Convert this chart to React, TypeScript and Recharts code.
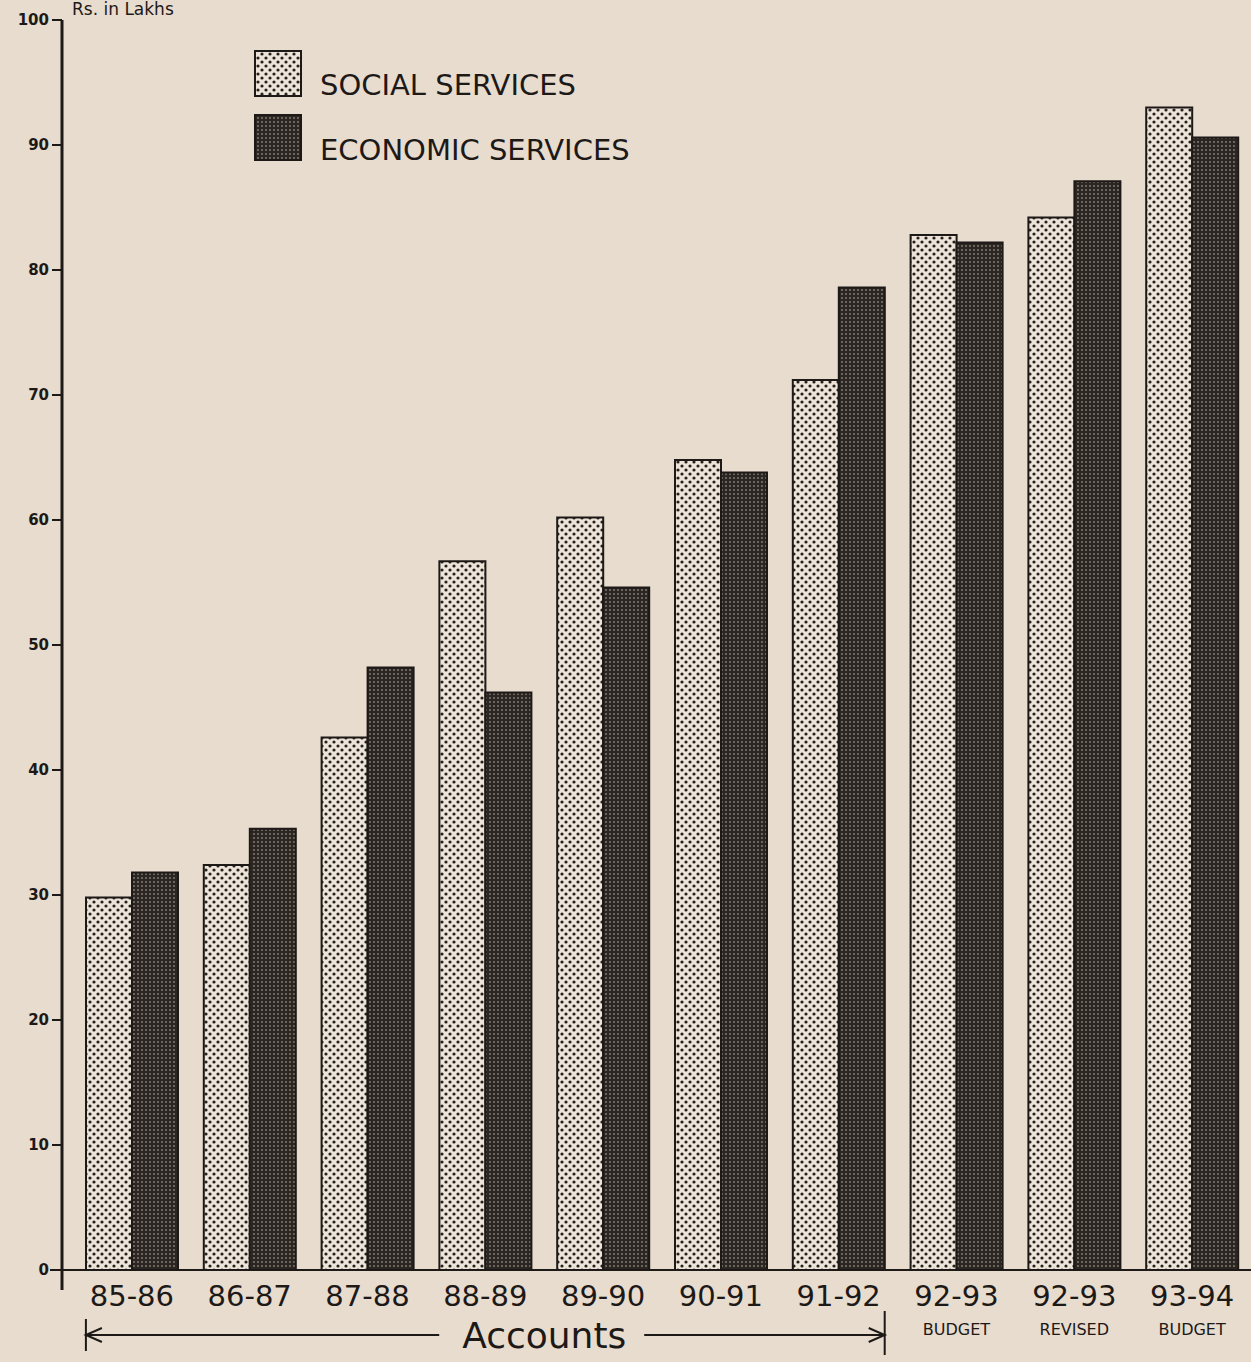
import { BarChart, Bar, XAxis, YAxis } from "recharts";

const years = ["85-86", "86-87", "87-88", "88-89", "89-90", "90-91", "91-92", "92-93", "92-93", "93-94"];
const subLabels = ["", "", "", "", "", "", "", "BUDGET", "REVISED", "BUDGET"];
const social = [29.8, 32.4, 42.6, 56.7, 60.2, 64.8, 71.2, 82.8, 84.2, 93.0];
const economic = [31.8, 35.3, 48.2, 46.2, 54.6, 63.8, 78.6, 82.2, 87.1, 90.6];
const yTicks = [0, 10, 20, 30, 40, 50, 60, 70, 80, 90, 100];
const seriesNames = ["SOCIAL SERVICES", "ECONOMIC SERVICES"];

const data = years.map((y, i) => ({
  id: `${y}${subLabels[i]}`,
  social: social[i],
  economic: economic[i],
}));

// layout
const W = 1251;
const H = 1362;
const TOP = 20;
const AXIS_W = 62;
const XAXIS_H = 92;
const PAD_LEFT = 11;
const BAR = 46;
const band = (W - AXIS_W - PAD_LEFT) / years.length;
const center = (i: number) => AXIS_W + PAD_LEFT + band * (i + 0.5);
const baseY = H - XAXIS_H;

const ink = "#1d1917";
const font = "'DejaVu Sans', sans-serif";

function XTick(props: any) {
  const { x, y, index } = props;
  return (
    <g>
      <text x={x} y={y + 36} textAnchor="middle" fontSize={29} fontFamily={font} fill={ink}>
        {years[index]}
      </text>
      {subLabels[index] && (
        <text x={x} y={y + 65} textAnchor="middle" fontSize={16} fontFamily={font} fill={ink}>
          {subLabels[index]}
        </text>
      )}
    </g>
  );
}

function Annotations() {
  const left = center(0) - BAR;
  const right = center(6) + BAR;
  const mid = (center(3) + center(4)) / 2;
  const ly = 1335;
  return (
    <g stroke={ink} strokeWidth={2} fill="none">
      {/* axis extensions */}
      <line x1={AXIS_W} y1={baseY} x2={AXIS_W} y2={baseY + 20} strokeWidth={3} />
      <line x1={AXIS_W - 12} y1={baseY} x2={AXIS_W} y2={baseY} strokeWidth={2} />
      {/* Accounts arrow */}
      <line x1={left} y1={ly - 16} x2={left} y2={ly + 16} />
      <line x1={left} y1={ly} x2={mid - 105} y2={ly} />
      <polyline points={`${left + 16},${ly - 7} ${left},${ly} ${left + 16},${ly + 7}`} />
      <line x1={mid + 100} y1={ly} x2={right} y2={ly} />
      <polyline points={`${right - 16},${ly - 7} ${right},${ly} ${right - 16},${ly + 7}`} />
      <line x1={right} y1={ly - 24} x2={right} y2={ly + 20} />
      <text x={mid} y={ly + 13} textAnchor="middle" fontSize={36} fontFamily={font} fill={ink} stroke="none">
        Accounts
      </text>
      {/* y unit label */}
      <text x={72} y={15} fontSize={17} fontFamily={font} fill={ink} stroke="none">
        Rs. in Lakhs
      </text>
      {/* legend */}
      <rect x={255} y={51} width={46} height={45} fill="url(#socialDots)" />
      <text x={320} y={95} fontSize={29} fontFamily={font} fill={ink} stroke="none">
        {seriesNames[0]}
      </text>
      <rect x={255} y={115} width={46} height={45} fill="url(#econDots)" />
      <text x={320} y={160} fontSize={29} fontFamily={font} fill={ink} stroke="none">
        {seriesNames[1]}
      </text>
    </g>
  );
}

export default function App() {
  return (
    <div style={{ position: "absolute", left: 0, top: 0, width: W, height: H, background: "#e8dccf", overflow: "hidden" }}>
      <BarChart
        width={W}
        height={H}
        data={data}
        margin={{ top: TOP, right: 0, left: 0, bottom: 0 }}
        barGap={0}
        barSize={BAR}
      >
        <defs>
          <pattern id="socialDots" width="8" height="8" patternUnits="userSpaceOnUse">
            <rect width="8" height="8" fill="#ede4d9" />
            <circle cx="2" cy="2" r="1.6" fill="#27211e" />
            <circle cx="6" cy="6" r="1.6" fill="#27211e" />
          </pattern>
          <pattern id="econDots" width="4" height="4" patternUnits="userSpaceOnUse">
            <rect width="4" height="4" fill="#2c2623" />
            <circle cx="2" cy="2" r="0.9" fill="#8a817b" />
          </pattern>
        </defs>
        <XAxis
          dataKey="id"
          height={XAXIS_H}
          padding={{ left: PAD_LEFT, right: 0 }}
          tickLine={false}
          tickSize={0}
          tickMargin={0}
          interval={0}
          axisLine={{ stroke: ink, strokeWidth: 2 }}
          tick={<XTick />}
        />
        <YAxis
          width={AXIS_W}
          domain={[0, 100]}
          ticks={yTicks}
          interval={0}
          tickSize={10}
          tickMargin={3}
          axisLine={{ stroke: ink, strokeWidth: 3 }}
          tickLine={{ stroke: ink, strokeWidth: 2 }}
          tick={{ fontSize: 15, fontWeight: "bold", fontFamily: font, fill: ink }}
        />
        <Bar dataKey="social" name={seriesNames[0]} fill="url(#socialDots)" stroke={ink} strokeWidth={2} isAnimationActive={false} />
        <Bar dataKey="economic" name={seriesNames[1]} fill="url(#econDots)" stroke={ink} strokeWidth={2} isAnimationActive={false} />
        <Annotations />
      </BarChart>
    </div>
  );
}
